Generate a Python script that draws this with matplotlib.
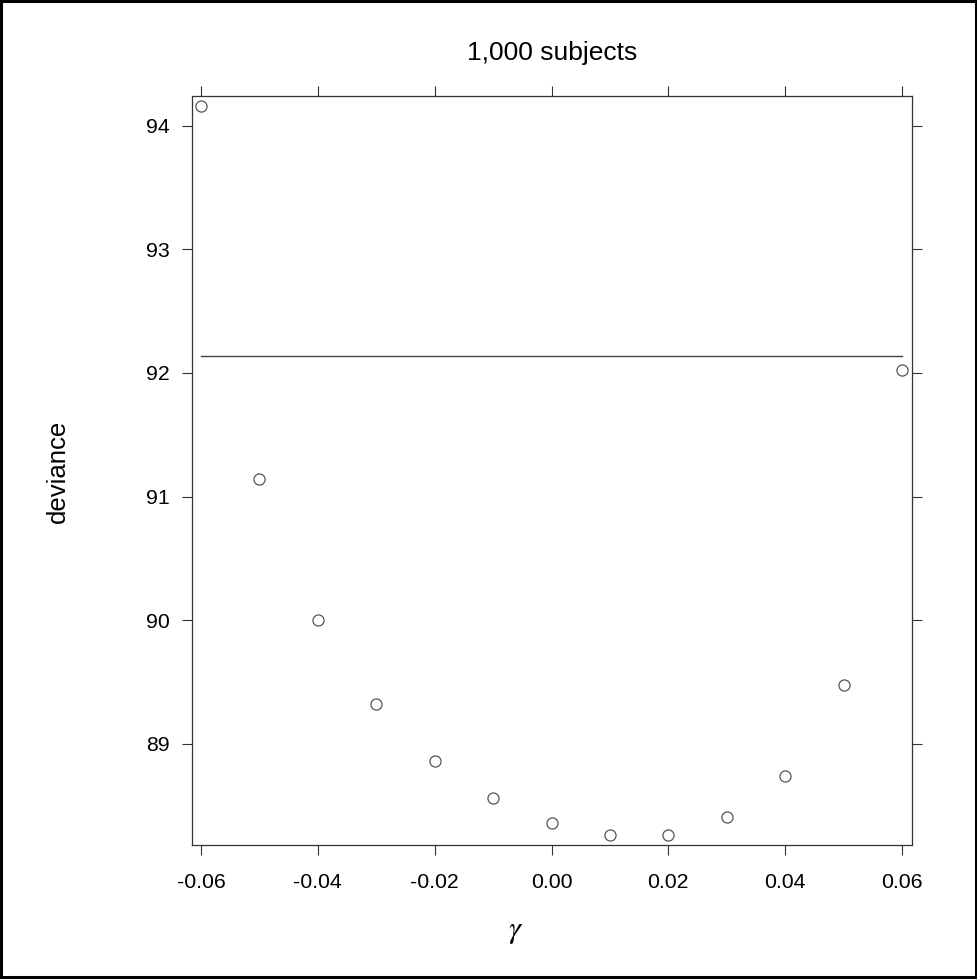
import matplotlib
matplotlib.use("Agg")
import matplotlib.pyplot as plt
from matplotlib.patches import Rectangle

plt.rcParams['font.family'] = ['Liberation Sans', 'DejaVu Sans']
plt.rcParams['mathtext.fontset'] = 'stix'

# Data
gamma = [-0.06, -0.05, -0.04, -0.03, -0.02, -0.01, 0.00, 0.01, 0.02, 0.03, 0.04, 0.05, 0.06]
deviance = [94.16, 91.14, 90.00, 89.32, 88.86, 88.56, 88.36, 88.26, 88.26, 88.41, 88.74, 89.48, 92.02]
ref_level = 92.14
x_ticks = [-0.06, -0.04, -0.02, 0.00, 0.02, 0.04, 0.06]
x_labels = ["-0.06", "-0.04", "-0.02", "0.00", "0.02", "0.04", "0.06"]
y_ticks = [89, 90, 91, 92, 93, 94]
y_labels = ["89", "90", "91", "92", "93", "94"]
title = "1,000 subjects"

W, H = 978, 980
fig = plt.figure(figsize=(W / 100, H / 100), dpi=100)
left, right, top, bottom = 191.7, 911.7, 96.0, 845.3
ax = fig.add_axes([left / W, 1 - bottom / H, (right - left) / W, (bottom - top) / H])

axcol = '#333333'
ax.plot([gamma[0], gamma[-1]], [ref_level, ref_level], color='#444444', lw=1.0)
ax.plot(gamma, deviance, linestyle='none', marker='o', markersize=8,
        markerfacecolor='none', markeredgecolor='#555555', markeredgewidth=0.9)

ax.set_xlim(-0.0616, 0.06166)
ax.set_ylim(88.18, 94.24)

ax.set_xticks(x_ticks)
ax.set_xticklabels(x_labels)
ax.set_yticks(y_ticks)
ax.set_yticklabels(y_labels)

ax.tick_params(axis='both', direction='out', length=7.2, width=0.8, color=axcol,
               labelsize=15.3, top=True, right=True, labeltop=False, labelright=False)
ax.tick_params(axis='x', pad=12.5)
ax.tick_params(axis='y', pad=8.5)
for s in ax.spines.values():
    s.set_color(axcol)
    s.set_linewidth(0.9)

fig.text(552.5 / W, 1 - 53 / H, title, ha='center', va='center', fontsize=19)
fig.text(58 / W, 1 - 471 / H, "deviance", ha='center', va='center', rotation=90, fontsize=18.5)
fig.text(516 / W, 1 - 931 / H, r"$\gamma$", ha='center', va='center', fontsize=22)

fig.patches.append(Rectangle((1.5 / W, 3 / H), (976 - 1.5) / W, (978.5 - 3) / H,
                             transform=fig.transFigure, fill=False, edgecolor='black',
                             linewidth=2.2, zorder=10))

fig.savefig("out.png", dpi=100)
